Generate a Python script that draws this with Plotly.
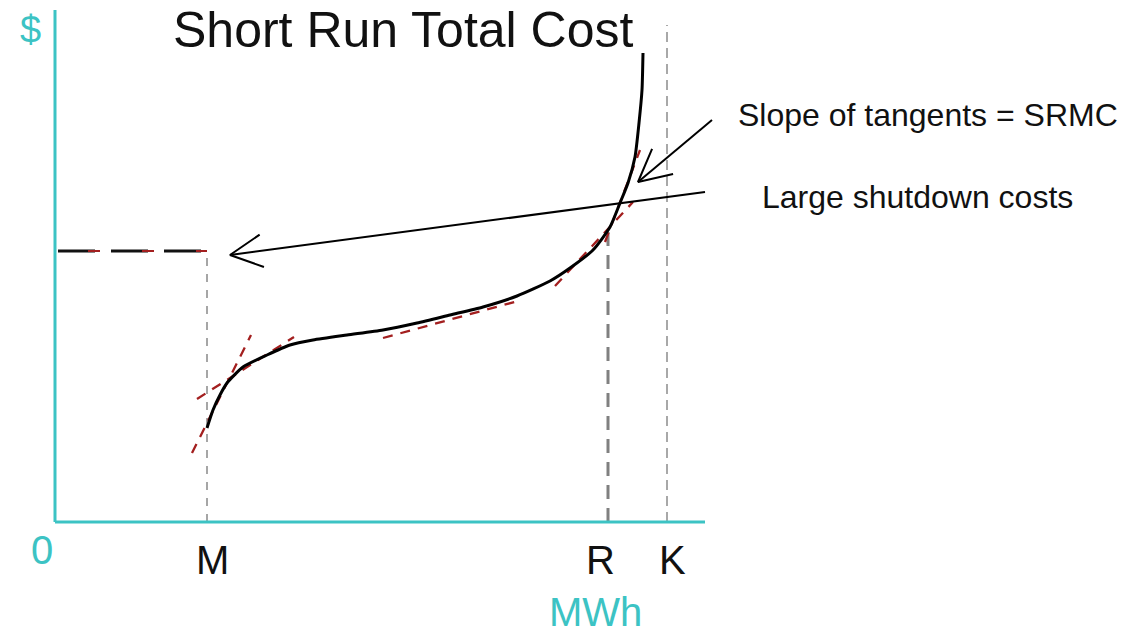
import math
import plotly.graph_objects as go

# ---- data (x in MWh units, y in $ units; origin at axis corner) ----
curve_x = [152, 158, 165, 172, 188, 212, 235, 258, 292, 328, 362, 395, 428, 462, 495, 515, 538, 555, 565, 573, 580, 584, 587, 588]
curve_y = [94, 112, 127, 139, 155, 167, 177, 182, 187, 192, 199, 207, 215, 226, 241, 254, 272, 295, 319, 339, 365, 399, 432, 469]

tangent_x0 = [137, 142, 328, 500, 550]
tangent_y0 = [69, 123, 184, 236, 280]
tangent_x1 = [196, 239, 463, 578, 585]
tangent_y1 = [187, 185, 221, 320, 372]

tick_labels = ["M", "R", "K"]
tick_values = [152, 553, 612]
vline_tops = [271, 292, 497]

shutdown_cost = 271
shutdown_start = 3

x_axis_end = 650
y_axis_end = 512

arrow_tails = [(657, 402), (650, 330)]
arrow_tips = [(583, 340), (175, 267)]

title_text = "Short Run Total Cost"
notes = ["Slope of tangents = SRMC", "Large shutdown costs"]

TEAL = "#3cc3c4"
RED = "#a31f1f"
FONT = "Liberation Sans, Arial, sans-serif"

fig = go.Figure()

def line(xs, ys, color, width, dash=None):
    fig.add_trace(go.Scatter(x=xs, y=ys, mode="lines",
                             line=dict(color=color, width=width, dash=dash),
                             hoverinfo="skip", showlegend=False))

# vertical guide lines
vstyles = [("#a6a6a6", 2, "8px,8px"), ("#808080", 3, "14px,9px"), ("#a8a8a8", 2, "10px,6px")]
for xv, top, (c, w, d) in zip(tick_values, vline_tops, vstyles):
    line([xv, xv], [0, top], c, w, d)

# axes
line([0, 0], [0, y_axis_end], TEAL, 3)
line([0, x_axis_end], [0, 0], TEAL, 3)

# shutdown cost horizontal dashed line
line([shutdown_start, tick_values[0]], [shutdown_cost, shutdown_cost], "#111111", 3, "37px,16px")
line([shutdown_start, tick_values[0]], [shutdown_cost, shutdown_cost], RED, 2, "0px,30px,12px,12px")

# tangents
for a, b, c, d in zip(tangent_x0, tangent_y0, tangent_x1, tangent_y1):
    line([a, c], [b, d], RED, 2.3, "10px,8px")

# total cost curve
fig.add_trace(go.Scatter(x=curve_x, y=curve_y, mode="lines",
                         line=dict(color="#000000", width=3, shape="spline", smoothing=0.6),
                         hoverinfo="skip", showlegend=False))

# arrows with open heads
for (tx, ty), (hx, hy) in zip(arrow_tails, arrow_tips):
    line([tx, hx], [ty, hy], "#000000", 2)
    ang = math.atan2(ty - hy, tx - hx)
    L = 36
    h = math.radians(27)
    line([hx + L * math.cos(ang + h), hx, hx + L * math.cos(ang - h)],
         [hy + L * math.sin(ang + h), hy, hy + L * math.sin(ang - h)],
         "#000000", 2)

label_offsets = [5, -8, 5]

ann = []
ann.append(dict(x=348, y=492, text=title_text, font=dict(size=50, color="#111111", family=FONT)))
ann.append(dict(x=-25, y=492, text="$", font=dict(size=38, color=TEAL, family=FONT)))
ann.append(dict(x=-13, y=-28, text="0", font=dict(size=40, color=TEAL, family=FONT)))
for lab, xv, off in zip(tick_labels, tick_values, label_offsets):
    ann.append(dict(x=xv + off, y=-38, text=lab, font=dict(size=40, color="#111111", family=FONT)))
ann.append(dict(x=540, y=-90, text="MWh", font=dict(size=40, color=TEAL, family=FONT)))
ann.append(dict(x=681, y=407, text=notes[0], xanchor="left", font=dict(size=32, color="#111111", family=FONT)))
ann.append(dict(x=705, y=325, text=notes[1], xanchor="left", font=dict(size=32, color="#111111", family=FONT)))
for a in ann:
    a.setdefault("xanchor", "center")
    a.update(xref="x", yref="y", showarrow=False, yanchor="middle")

fig.update_layout(
    width=1129, height=635,
    margin=dict(l=0, r=0, t=0, b=0),
    paper_bgcolor="white", plot_bgcolor="white",
    xaxis=dict(range=[-55, 1074], visible=False, fixedrange=True),
    yaxis=dict(range=[-113, 522], visible=False, fixedrange=True),
    annotations=ann,
)

fig.write_html("out.html", config={"displayModeBar": False},
               post_script="document.body.style.margin='0';")
